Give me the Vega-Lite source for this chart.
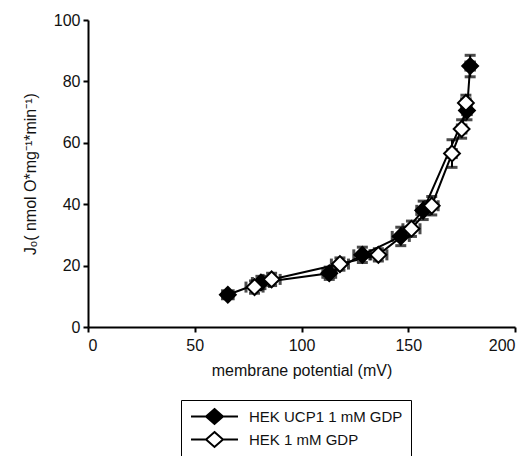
{
  "$schema": "https://vega.github.io/schema/vega-lite/v6.json",
  "width": 427,
  "height": 307,
  "autosize": {"type": "none"},
  "padding": {"left": 88, "top": 20, "right": 15, "bottom": 129},
  "background": "white",
  "config": {
    "view": {"stroke": null},
    "font": "Liberation Sans",
    "axis": {
      "domainColor": "black", "domainWidth": 2,
      "tickColor": "black", "tickWidth": 2, "tickSize": 5,
      "labelColor": "#111", "labelFontSize": 16, "labelFont": "Liberation Sans",
      "titleColor": "#111", "titleFontSize": 16, "titleFontWeight": "normal", "titleFont": "Liberation Sans",
      "grid": false
    }
  },
  "data": {
    "values": [
      {"series": "HEK UCP1 1 mM GDP", "mv": 65.5, "jo": 10.5, "mvErr": 2.5, "joErr": 1.0},
      {"series": "HEK UCP1 1 mM GDP", "mv": 81, "jo": 14.5, "mvErr": 4, "joErr": 2.0},
      {"series": "HEK UCP1 1 mM GDP", "mv": 113, "jo": 17.5, "mvErr": 3, "joErr": 2.0},
      {"series": "HEK UCP1 1 mM GDP", "mv": 128.5, "jo": 23.5, "mvErr": 4, "joErr": 2.5},
      {"series": "HEK UCP1 1 mM GDP", "mv": 146.5, "jo": 29.5, "mvErr": 4, "joErr": 3.0},
      {"series": "HEK UCP1 1 mM GDP", "mv": 157, "jo": 38, "mvErr": 3, "joErr": 3.0},
      {"series": "HEK UCP1 1 mM GDP", "mv": 177.5, "jo": 70.5, "mvErr": 2, "joErr": 3.0},
      {"series": "HEK UCP1 1 mM GDP", "mv": 179, "jo": 85, "mvErr": 2, "joErr": 3.5},
      {"series": "HEK 1 mM GDP", "mv": 78, "jo": 13, "mvErr": 4, "joErr": 2.0},
      {"series": "HEK 1 mM GDP", "mv": 86, "jo": 15.5, "mvErr": 4, "joErr": 2.0},
      {"series": "HEK 1 mM GDP", "mv": 118, "jo": 20.5, "mvErr": 4, "joErr": 2.0},
      {"series": "HEK 1 mM GDP", "mv": 136, "jo": 23.5, "mvErr": 4, "joErr": 2.0},
      {"series": "HEK 1 mM GDP", "mv": 151.5, "jo": 32, "mvErr": 4, "joErr": 2.5},
      {"series": "HEK 1 mM GDP", "mv": 161, "jo": 39.5, "mvErr": 3, "joErr": 3.0},
      {"series": "HEK 1 mM GDP", "mv": 170.5, "jo": 56.5, "mvErr": 2, "joErr": 4.5},
      {"series": "HEK 1 mM GDP", "mv": 175, "jo": 64.5, "mvErr": 2, "joErr": 3.0},
      {"series": "HEK 1 mM GDP", "mv": 177, "jo": 73, "mvErr": 2, "joErr": 2.5}
    ]
  },
  "layer": [
    {
      "mark": {"type": "errorbar", "ticks": {"size": 9, "stroke": "black", "strokeWidth": 2}, "rule": {"stroke": "black", "strokeWidth": 2}},
      "encoding": {
        "x": {"field": "mv", "type": "quantitative", "title": "membrane potential (mV)", "scale": {"domain": [0, 200]},
          "axis": {"values": [0, 50, 100, 150, 200], "titlePadding": 9, "labelPadding": 5}},
        "y": {"field": "jo", "type": "quantitative", "title": "Jₒ( nmol O*mg⁻¹*min⁻¹)", "scale": {"domain": [0, 100]},
          "axis": {"values": [0, 20, 40, 60, 80, 100], "titlePadding": 15, "labelPadding": 3}},
        "yError": {"field": "joErr"},
        "detail": {"field": "series"}
      }
    },
    {
      "mark": {"type": "errorbar", "ticks": {"size": 9, "stroke": "black", "strokeWidth": 2}, "rule": {"stroke": "black", "strokeWidth": 2}},
      "encoding": {
        "y": {"field": "jo", "type": "quantitative", "title": "Jₒ( nmol O*mg⁻¹*min⁻¹)"},
        "x": {"field": "mv", "type": "quantitative", "title": "membrane potential (mV)"},
        "xError": {"field": "mvErr"},
        "detail": {"field": "series"}
      }
    },
    {
      "mark": {"type": "line", "stroke": "black", "strokeWidth": 2},
      "encoding": {
        "x": {"field": "mv", "type": "quantitative", "title": "membrane potential (mV)"},
        "y": {"field": "jo", "type": "quantitative", "title": "Jₒ( nmol O*mg⁻¹*min⁻¹)"},
        "detail": {"field": "series"},
        "order": {"field": "mv"}
      }
    },
    {
      "mark": {"type": "point", "shape": "diamond", "size": 250, "stroke": "black", "strokeWidth": 2, "opacity": 1, "filled": false},
      "encoding": {
        "x": {"field": "mv", "type": "quantitative", "title": "membrane potential (mV)"},
        "y": {"field": "jo", "type": "quantitative", "title": "Jₒ( nmol O*mg⁻¹*min⁻¹)"},
        "fill": {
          "field": "series", "type": "nominal",
          "scale": {"domain": ["HEK UCP1 1 mM GDP", "HEK 1 mM GDP"], "range": ["black", "white"]},
          "legend": {
            "title": null, "orient": "none", "legendX": 93, "legendY": 380,
            "strokeColor": "black", "padding": 8,
            "symbolType": "M-3.13,0H-1.13M1.13,0H3.13M0,-1L1.13,0L0,1L-1.13,0Z",
            "symbolSize": 225, "symbolOffset": 17, "symbolStrokeColor": "black", "symbolStrokeWidth": 2,
            "symbolOpacity": 1,
            "labelFontSize": 15, "labelColor": "#111", "labelFont": "Liberation Sans",
            "rowPadding": 0, "labelOffset": 26
          }
        }
      }
    }
  ]
}
